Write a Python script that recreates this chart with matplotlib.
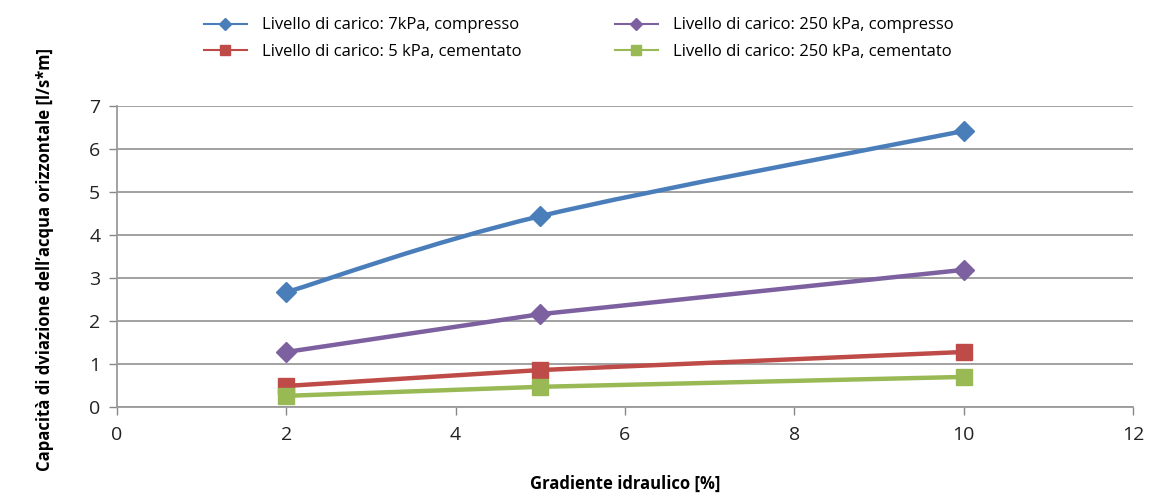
import matplotlib
matplotlib.use("Agg")
import matplotlib.pyplot as plt
from matplotlib.path import Path
from matplotlib.patches import PathPatch
from matplotlib.lines import Line2D
import numpy as np

plt.rcParams['font.family'] = ['Open Sans', 'DejaVu Sans']

x = [2, 5, 10]
blue_7kpa_comp = [2.67, 4.44, 6.42]
purple_250kpa_comp = [1.28, 2.16, 3.19]
red_5kpa_cem = [0.49, 0.86, 1.28]
green_250kpa_cem = [0.26, 0.47, 0.70]

labels = ["Livello di carico: 7kPa, compresso",
          "Livello di carico: 5 kPa, cementato",
          "Livello di carico: 250 kPa, compresso",
          "Livello di carico: 250 kPa, cementato"]
xticks = [0, 2, 4, 6, 8, 10, 12]
yticks = [0, 1, 2, 3, 4, 5, 6, 7]

fig = plt.figure(figsize=(11.71, 4.98), dpi=100)
ax = fig.add_axes([0.0999, 0.1827, 0.8676, 0.6043])

def smooth_path(xs, ys):
    P = np.column_stack([xs, ys]).astype(float)
    n = len(P)
    verts = [P[0]]
    codes = [Path.MOVETO]
    for i in range(n - 1):
        p0 = P[i - 1] if i > 0 else P[i]
        p1 = P[i]
        p2 = P[i + 1]
        p3 = P[i + 2] if i + 2 < n else P[i + 1]
        c1 = p1 + (p2 - p0) / 6.0
        c2 = p2 - (p3 - p1) / 6.0
        verts += [c1, c2, p2]
        codes += [Path.CURVE4] * 3
    return Path(verts, codes)

series = [
    (blue_7kpa_comp, '#4A7EBB', 'D', 10, True),
    (red_5kpa_cem, '#BE4B48', 's', 12, False),
    (purple_250kpa_comp, '#7D60A0', 'D', 10, False),
    (green_250kpa_cem, '#98B954', 's', 12, False),
]
handles = []
for ys, col, mk, ms, smooth in series:
    if smooth:
        patch = PathPatch(smooth_path(x, ys), facecolor='none', edgecolor=col,
                          lw=3.2, zorder=3, capstyle='round')
        ax.add_patch(patch)
        ax.plot(x, ys, ls='none', marker=mk, ms=ms, color=col, zorder=4)
    else:
        ax.plot(x, ys, ls='-', lw=3.2, marker=mk, ms=ms, color=col, zorder=4)
    handles.append(Line2D([0], [0], color=col, lw=1.5, marker=mk, ms=6 if mk == 'D' else 7))

ax.set_xlim(0, 12)
ax.set_ylim(0, 7)
ax.set_xticks(xticks)
ax.set_yticks(yticks)
ax.tick_params(axis='both', labelsize=14, colors='#888888', labelcolor='#222222', length=6, width=1)
ax.tick_params(axis='x', pad=8)
ax.tick_params(axis='y', pad=6)
ax.grid(axis='y', color='#9a9a9a', lw=1.3)
ax.set_axisbelow(True)
for s in ['top', 'right']:
    ax.spines[s].set_visible(False)
for s in ['left', 'bottom']:
    ax.spines[s].set_color('#9a9a9a')
    ax.spines[s].set_linewidth(1.3)

ax.set_xlabel("Gradiente idraulico [%]", fontsize=12, fontweight='bold', labelpad=22)
ax.set_ylabel("Capacità di dviazione dell’acqua orizzontale [l/s*m]", fontsize=12,
              fontweight='bold')
ax.yaxis.set_label_coords(-0.062, 0.49)

fig.legend(handles, labels, ncol=2, frameon=False, fontsize=12,
           loc='upper left', bbox_to_anchor=(0.161, 0.995), columnspacing=5.6,
           handlelength=2.6, handletextpad=0.9, labelspacing=0.65)

fig.savefig("out.png", dpi=100)
